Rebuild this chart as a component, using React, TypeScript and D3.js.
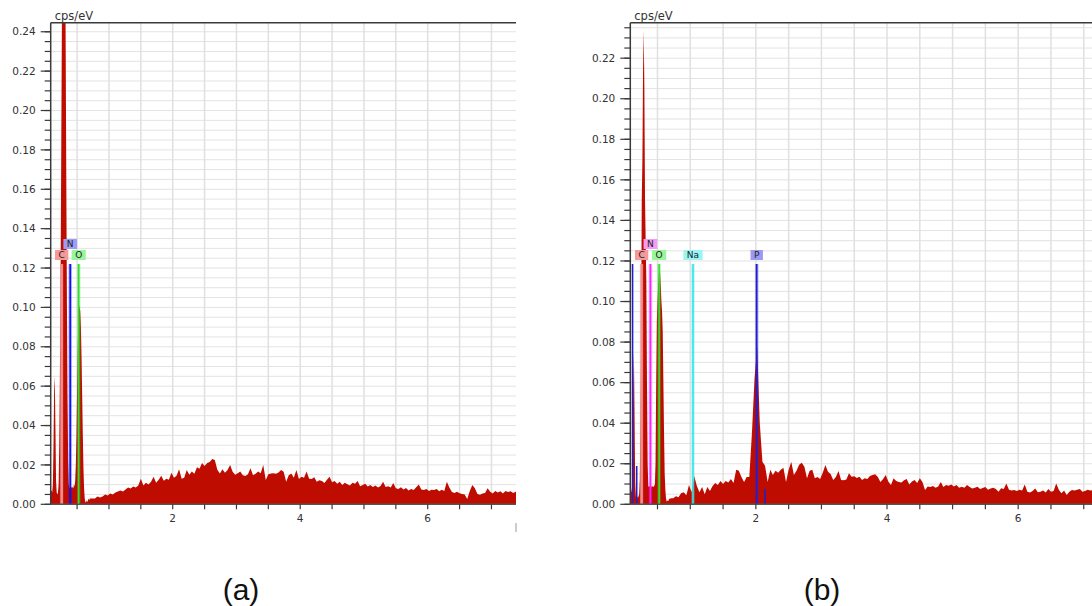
import React from 'react';
import * as d3 from 'd3';

// ---- channel layout of the spectra (keV) ----
const FINE_START = 0.08;
const FINE_STEP = 0.01;
const COARSE_START = 0.74;
const COARSE_STEP = 0.04;

// ---- spectrum (a): low-energy channels 0.08..0.70 keV (cps/eV) ----
const lowEnergyA = [
  0.006, 0.007, 0.007, 0.006, 0.010, 0.030, 0.058, 0.065, 0.040, 0.012,
  0.006, 0.005, 0.006, 0.010, 0.030, 0.065, 0.110, 0.170, 0.235, 0.290,
  0.330, 0.350, 0.335, 0.295, 0.240, 0.170, 0.105, 0.055, 0.022, 0.010,
  0.008, 0.009, 0.008, 0.009, 0.008, 0.009, 0.008, 0.010, 0.009, 0.012,
  0.020, 0.035, 0.058, 0.080, 0.095, 0.101, 0.100, 0.098, 0.090, 0.075,
  0.055, 0.035, 0.018, 0.008, 0.003, 0.001, 0.001, 0.002, 0.001, 0.002,
  0.003, 0.002, 0.003,
];
// ---- spectrum (a): background channels 0.74..7.42 keV ----
const backgroundA = [
  0.003, 0.003, 0.004, 0.0035, 0.004, 0.005, 0.0045, 0.0055, 0.005, 0.006,
  0.0065, 0.007, 0.0065, 0.0075, 0.0085, 0.008, 0.009, 0.0085, 0.0095, 0.013,
  0.0095, 0.011, 0.010, 0.0115, 0.014, 0.011, 0.0125, 0.0145, 0.012, 0.013,
  0.0125, 0.016, 0.0135, 0.0145, 0.0178, 0.013, 0.0135, 0.0174, 0.015, 0.0166,
  0.0155, 0.0188, 0.018, 0.021, 0.0195, 0.021, 0.0215, 0.023, 0.0225, 0.0175,
  0.0157, 0.0178, 0.016, 0.0174, 0.020, 0.0165, 0.015, 0.0158, 0.0166, 0.0148,
  0.0144, 0.0152, 0.0183, 0.0148, 0.0155, 0.0166, 0.0158, 0.020, 0.0124, 0.0152,
  0.0157, 0.0158, 0.0155, 0.0162, 0.0174, 0.0165, 0.0115, 0.0148, 0.0157, 0.0135,
  0.0174, 0.0128, 0.014, 0.0135, 0.0166, 0.013, 0.0128, 0.0138, 0.0115, 0.0122,
  0.0118, 0.0108, 0.0125, 0.014, 0.0112, 0.0118, 0.0105, 0.0115, 0.0098, 0.011,
  0.0102, 0.0095, 0.011, 0.0105, 0.0118, 0.0092, 0.0098, 0.0105, 0.009, 0.0098,
  0.0088, 0.0095, 0.0085, 0.0093, 0.0115, 0.0088, 0.0092, 0.0085, 0.0108, 0.0082,
  0.0078, 0.0086, 0.0075, 0.0083, 0.007, 0.0078, 0.0072, 0.0086, 0.010, 0.0075,
  0.0072, 0.0078, 0.0068, 0.0074, 0.0072, 0.0078, 0.0066, 0.0074, 0.0068, 0.0115,
  0.0085, 0.0062, 0.0058, 0.0064, 0.0056, 0.0052, 0.005, 0.0027, 0.0068, 0.0098,
  0.0082, 0.0052, 0.0048, 0.0055, 0.0058, 0.0081, 0.0064, 0.0055, 0.0068, 0.006,
  0.0066, 0.0055, 0.0068, 0.0062, 0.0066, 0.0058, 0.0064, 0.006,
];

// ---- spectrum (b): low-energy channels 0.08..0.70 keV ----
const lowEnergyB = [
  0.007, 0.007, 0.006, 0.008, 0.020, 0.060, 0.075, 0.045, 0.010, 0.004,
  0.003, 0.004, 0.003, 0.004, 0.005, 0.012, 0.040, 0.080, 0.150, 0.170,
  0.215, 0.234, 0.205, 0.150, 0.130, 0.110, 0.060, 0.020, 0.009, 0.0085,
  0.009, 0.0085, 0.008, 0.009, 0.0087, 0.009, 0.0085, 0.009, 0.010, 0.020,
  0.060, 0.090, 0.100, 0.108, 0.113, 0.116, 0.114, 0.108, 0.100, 0.095,
  0.085, 0.060, 0.035, 0.015, 0.007, 0.003, 0.0013, 0.002, 0.0015, 0.002,
  0.003, 0.0025, 0.003,
];
// ---- spectrum (b): background channels 0.74..7.42 keV ----
const backgroundB = [
  0.003, 0.004, 0.0035, 0.0055, 0.006, 0.0045, 0.0095, 0.006, 0.014, 0.009,
  0.006, 0.0085, 0.005, 0.0085, 0.0065, 0.009, 0.0105, 0.0095, 0.0115, 0.010,
  0.0115, 0.0108, 0.0125, 0.0105, 0.017, 0.0165, 0.0135, 0.011, 0.0135, 0.0135,
  0.035, 0.062, 0.078, 0.040, 0.021, 0.019, 0.011, 0.017, 0.0145, 0.0165,
  0.0155, 0.017, 0.018, 0.011, 0.017, 0.021, 0.0145, 0.0165, 0.0195, 0.0205,
  0.0185, 0.0128, 0.0165, 0.017, 0.0128, 0.0135, 0.0125, 0.0155, 0.0194, 0.016,
  0.015, 0.012, 0.0135, 0.0164, 0.012, 0.0118, 0.0122, 0.0153, 0.0136, 0.0138,
  0.013, 0.0136, 0.012, 0.0128, 0.0125, 0.014, 0.0145, 0.0148, 0.0135, 0.011,
  0.0125, 0.0145, 0.0112, 0.0095, 0.0128, 0.0115, 0.011, 0.0108, 0.0118, 0.0125,
  0.0098, 0.0112, 0.012, 0.0105, 0.0128, 0.011, 0.007, 0.0088, 0.0085, 0.009,
  0.0082, 0.0088, 0.011, 0.0085, 0.0095, 0.0092, 0.0098, 0.0088, 0.0095, 0.0082,
  0.0087, 0.0082, 0.0095, 0.0085, 0.0078, 0.0082, 0.0087, 0.0075, 0.008, 0.0085,
  0.0072, 0.0078, 0.0082, 0.0075, 0.0062, 0.0079, 0.0075, 0.0103, 0.0072, 0.0068,
  0.007, 0.0065, 0.0072, 0.0068, 0.0098, 0.0062, 0.0058, 0.0065, 0.0078, 0.006,
  0.0062, 0.0068, 0.0058, 0.0075, 0.0062, 0.0065, 0.0103, 0.0072, 0.0055, 0.0068,
  0.0046, 0.0062, 0.007, 0.0068, 0.0072, 0.0075, 0.0062, 0.0065, 0.0072, 0.0068,
  0.007, 0.0065, 0.0068, 0.0062, 0.007, 0.0066, 0.0064, 0.0068,
];

// ---- axes ----
const xDomainA = [0.086, 7.385];
const xDomainB = [0.0854, 7.385];
const yMaxA = 0.2446;
const yMaxB = 0.2375;
const yTickLabelsA = ['0.00', '0.02', '0.04', '0.06', '0.08', '0.10', '0.12', '0.14', '0.16', '0.18', '0.20', '0.22', '0.24'];
const yTickLabelsB = ['0.00', '0.02', '0.04', '0.06', '0.08', '0.10', '0.12', '0.14', '0.16', '0.18', '0.20', '0.22'];
const xTickLabels = [2, 4, 6];
const xGridKeV = [0.5, 1, 1.5, 2, 2.5, 3, 3.5, 4, 4.5, 5, 5.5, 6, 6.5, 7];
const yUnit = 'cps/eV';

// ---- element markers ----
const markerNamesA = ['C', 'N', 'O'];
const markerKeVA = [0.258, 0.392, 0.525];
const markerRowA = [0, 1, 0];
const markerNamesB = ['C', 'N', 'O', 'Na', 'P'];
const markerKeVB = [0.258, 0.392, 0.525, 1.041, 2.013];
const markerRowB = [0, 1, 0, 0, 0];
// unlabelled secondary lines in (b): energy, height (cps/eV)
const extraLineKeVB = [0.12, 0.183, 2.139];
const extraLineHeightB = [null, 0.0189, 0.0075];

const panelCaptions = ['(a)', '(b)'];

// ---- styles ----
const SPECTRUM_FILL = '#bf0c00';
const boxColorsA: Record<string, string> = { C: '#f59a9a', N: '#9d9df5', O: '#99f599' };
const lineColorsA: Record<string, string> = { C: '#f09090', N: '#1010f0', O: '#30e030' };
const boxColorsB: Record<string, string> = { C: '#f59a9a', N: '#f59af5', O: '#99f599', Na: '#99f5f5', P: '#9a9af0' };
const lineColorsB: Record<string, string> = { C: '#f09090', N: '#ff20ff', O: '#30e030', Na: '#30e8e8', P: '#2020d0' };
const EXTRA_LINE_COLOR = '#2020c8';

const layoutA = { left: 50.7, right: 516, top: 22.7, bottom: 504.3 };
const layoutB = { left: 630.3, right: 1109, top: 22.7, bottom: 504.3 };
const FONT = 'DejaVu Sans, Verdana, sans-serif';

type Layout = { left: number; right: number; top: number; bottom: number };

function Panel(props: {
  id: string;
  layout: Layout;
  xDomain: number[];
  yMax: number;
  fine: number[];
  coarse: number[];
  yLabels: string[];
  names: string[];
  keVs: number[];
  rows: number[];
  boxColors: Record<string, string>;
  lineColors: Record<string, string>;
  extraKeV?: number[];
  extraHeight?: (number | null)[];
}) {
  const { layout: L } = props;
  const x = d3.scaleLinear().domain(props.xDomain).range([L.left, L.right]);
  const y = d3.scaleLinear().domain([0, props.yMax]).range([L.bottom, L.top]);

  const pts = [
    ...props.fine.map((v, i) => ({ e: FINE_START + i * FINE_STEP, v })),
    ...props.coarse.map((v, i) => ({ e: COARSE_START + i * COARSE_STEP, v })),
  ];
  const area = d3
    .area<{ e: number; v: number }>()
    .x((d) => x(d.e))
    .y0(y(0))
    .y1((d) => y(d.v));

  const majorY = props.yLabels.map((s) => parseFloat(s));
  const minorY = d3.range(0, props.yMax + 1e-9, 0.005);
  const xMinor = xGridKeV.filter((k) => k > props.xDomain[0] && k < props.xDomain[1]);

  const rowBoxTop = [250, 239];
  const boxH = 10;
  const lineTop = rowBoxTop[0] + boxH + 4;

  const charW: Record<string, number> = { C: 6.3, N: 6.7, O: 7.1, a: 5.5, P: 5.4 };
  const textWidth = (s: string) => s.split('').reduce((a, c) => a + (charW[c] ?? 6), 0);

  return (
    <g>
      <defs>
        <clipPath id={`clip-${props.id}`}>
          <rect x={L.left} y={L.top} width={L.right - L.left} height={L.bottom - L.top} />
        </clipPath>
      </defs>
      {/* grid */}
      <g clipPath={`url(#clip-${props.id})`}>
        {minorY.map((v, i) => (
          <line key={`gy${i}`} x1={L.left} x2={L.right} y1={y(v)} y2={y(v)} stroke="#e3e3e3" strokeWidth={1} />
        ))}
        {xMinor.map((k, i) => (
          <line key={`gx${i}`} x1={x(k)} x2={x(k)} y1={L.top} y2={L.bottom} stroke="#e0e0e0" strokeWidth={1.5} />
        ))}
        <path d={area(pts) || ''} fill={SPECTRUM_FILL} />
        {/* marker lines */}
        {props.names.map((n, i) => (
          <g key={`ml${i}`}>
            <line x1={x(props.keVs[i])} x2={x(props.keVs[i])} y1={lineTop} y2={L.bottom} stroke={props.lineColors[n]} strokeOpacity={0.35} strokeWidth={3.5} />
            <line x1={x(props.keVs[i])} x2={x(props.keVs[i])} y1={lineTop} y2={L.bottom} stroke={props.lineColors[n]} strokeWidth={n === 'C' ? 2.5 : 1.6} />
          </g>
        ))}
        {(props.extraKeV || []).map((k, i) => {
          const h = props.extraHeight ? props.extraHeight[i] : null;
          return (
            <line key={`ex${i}`} x1={x(k)} x2={x(k)} y1={h == null ? lineTop : y(h)} y2={L.bottom} stroke={EXTRA_LINE_COLOR} strokeWidth={1.6} />
          );
        })}
      </g>
      {/* marker labels */}
      {props.names.map((n, i) => {
        const w = textWidth(n) + 7;
        const cx = x(props.keVs[i]);
        const top = rowBoxTop[props.rows[i]];
        return (
          <g key={`lb${i}`}>
            <rect x={cx - w / 2} y={top} width={w} height={boxH} fill={props.boxColors[n]} />
            <text x={cx} y={top + 8.3} textAnchor="middle" fontFamily={FONT} fontSize={9} fill="#222">
              {n}
            </text>
          </g>
        );
      })}
      {/* axes */}
      <line x1={L.left} x2={L.right} y1={L.top} y2={L.top} stroke="#3a3a3a" strokeWidth={1.5} />
      <line x1={L.left} x2={L.left} y1={L.top} y2={L.bottom} stroke="#3a3a3a" strokeWidth={1.5} />
      <line x1={L.left} x2={L.right} y1={L.bottom} y2={L.bottom} stroke="#555" strokeWidth={1.5} />
      {minorY.map((v, i) => (
        <line key={`ty${i}`} x1={L.left - 6} x2={L.left} y1={y(v)} y2={y(v)} stroke="#3a3a3a" strokeWidth={1.2} />
      ))}
      {majorY.map((v, i) => (
        <g key={`yl${i}`}>
          <line x1={L.left - 10} x2={L.left} y1={y(v)} y2={y(v)} stroke="#3a3a3a" strokeWidth={1.2} />
          <text x={L.left - 15} y={y(v) + 3.7} textAnchor="end" fontFamily={FONT} fontSize={10.5} fill="#333">
            {props.yLabels[i]}
          </text>
        </g>
      ))}
      {xMinor.map((k, i) => (
        <line key={`tx${i}`} x1={x(k)} x2={x(k)} y1={L.bottom} y2={L.bottom + 5} stroke="#3a3a3a" strokeWidth={1.2} />
      ))}
      {xTickLabels.map((k) => (
        <text key={`xl${k}`} x={x(k)} y={L.bottom + 18} textAnchor="middle" fontFamily={FONT} fontSize={10.5} fill="#333">
          {k}
        </text>
      ))}
      <text x={L.left + 4} y={L.top - 3} fontFamily={FONT} fontSize={11.5} fill="#333">
        {yUnit}
      </text>
    </g>
  );
}

export default function App() {
  return (
    <svg width={1092} height={606} style={{ position: 'absolute', left: 0, top: 0, background: '#fff' }}>
      <rect x={0} y={0} width={1092} height={606} fill="#fff" />
      <Panel
        id="a"
        layout={layoutA}
        xDomain={xDomainA}
        yMax={yMaxA}
        fine={lowEnergyA}
        coarse={backgroundA}
        yLabels={yTickLabelsA}
        names={markerNamesA}
        keVs={markerKeVA}
        rows={markerRowA}
        boxColors={boxColorsA}
        lineColors={lineColorsA}
      />
      <Panel
        id="b"
        layout={layoutB}
        xDomain={xDomainB}
        yMax={yMaxB}
        fine={lowEnergyB}
        coarse={backgroundB}
        yLabels={yTickLabelsB}
        names={markerNamesB}
        keVs={markerKeVB}
        rows={markerRowB}
        boxColors={boxColorsB}
        lineColors={lineColorsB}
        extraKeV={extraLineKeVB}
        extraHeight={extraLineHeightB}
      />
      <line x1={516} x2={516} y1={523} y2={532} stroke="#999" strokeWidth={1} />
      <text x={241} y={600} textAnchor="middle" fontFamily="Liberation Sans, Arial, sans-serif" fontSize={30} fill="#111">
        {panelCaptions[0]}
      </text>
      <text x={822} y={600} textAnchor="middle" fontFamily="Liberation Sans, Arial, sans-serif" fontSize={30} fill="#111">
        {panelCaptions[1]}
      </text>
    </svg>
  );
}
